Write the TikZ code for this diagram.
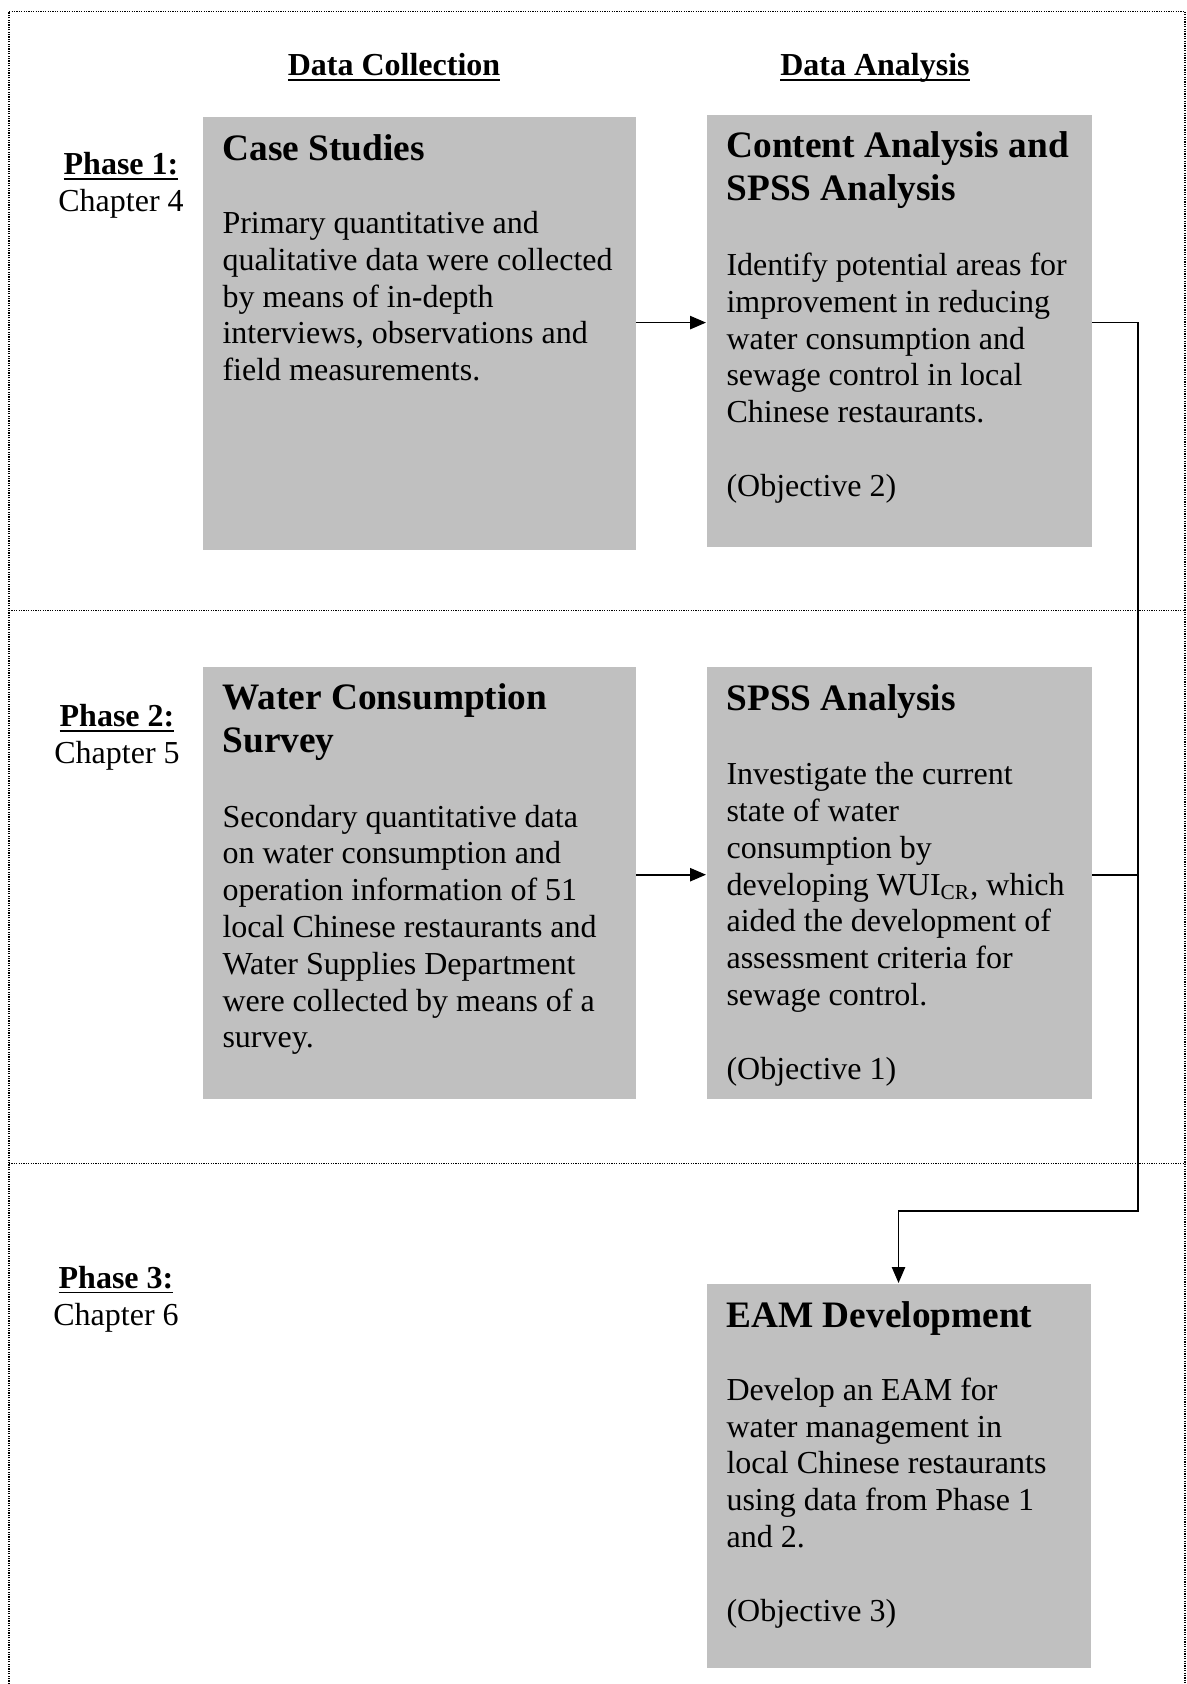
\documentclass[tikz,border=0pt]{standalone}
\usepackage{fontspec}
\setmainfont{Liberation Serif}
\usetikzlibrary{arrows.meta}
\definecolor{boxgray}{RGB}{192,192,192}
\newcommand{\myul}[1]{\setbox0\hbox{#1}\rlap{\rule[-1.9pt]{\wd0}{0.6pt}}\box0}
\begin{document}
\begin{tikzpicture}[x=0.375pt,y=-0.375pt,
 gbox/.style={fill=boxgray, draw=none, inner sep=0pt, anchor=north west},
 title/.style={anchor=base west, inner sep=0pt, align=left, font=\fontsize{14pt}{16.1pt}\selectfont\bfseries},
 body/.style={anchor=base west, inner sep=0pt, align=left, font=\fontsize{12pt}{13.8pt}\selectfont},
 head/.style={anchor=base, inner sep=0pt, font=\fontsize{12pt}{13.8pt}\selectfont\bfseries},
 phase/.style={anchor=base, inner sep=0pt, align=center, font=\fontsize{12pt}{13.8pt}\selectfont},
 frame/.style={line width=0.5pt, dash pattern=on 0.45pt off 0.45pt},
 conn/.style={line width=0.6pt},
 arr/.style={conn, -{Triangle[length=6pt,width=5pt]}}
]
\useasboundingbox (0,0) rectangle (1187,1684);

% frame and dividers
\draw[frame] (9,1684) -- (9,11.5) -- (1185,11.5) -- (1185,1684);
\draw[frame] (9,610.6) -- (1185,610.6);
\draw[frame] (9,1163.6) -- (1185,1163.6);

% boxes
\node[gbox, minimum width=433*0.375pt, minimum height=433*0.375pt] (csbox) at (202,116) {};
\node[gbox, minimum width=385*0.375pt, minimum height=432.5*0.375pt] (cabox) at (706,114) {};
\node[gbox, minimum width=433*0.375pt, minimum height=432.6*0.375pt] (wcbox) at (202,666) {};
\node[gbox, minimum width=385*0.375pt, minimum height=432.6*0.375pt] (spbox) at (706,666) {};
\node[gbox, minimum width=384*0.375pt, minimum height=384.7*0.375pt] (eambox) at (706,1283) {};

% headers
\node[head] (dc) at (394,76) {\myul{Data Collection}};
\node[head] (da) at (875,76) {\myul{Data Analysis}};

% phases (anchor = baseline of last line)
\node[phase] (p1) at (121,211.3) {\textbf{\myul{Phase 1:}}\\Chapter 4};
\node[phase] (p2) at (117,763.5) {\textbf{\myul{Phase 2:}}\\Chapter 5};
\node[phase] (p3) at (116,1325) {\textbf{\myul{Phase 3:}}\\Chapter 6};

% texts (anchor = baseline of last line)
\node[title] (cst) at (222,160.7) {Case Studies};
\node[body] (csb) at (222,380.6) {Primary quantitative and\\qualitative data were collected\\by means of in-depth\\interviews, observations and\\field measurements.};

\node[title] (cat) at (726,200.9) {Content Analysis and\\SPSS Analysis};
\node[body] (cab) at (726,496.3) {Identify potential areas for\\improvement in reducing\\water consumption and\\sewage control in local\\Chinese restaurants.\\[13.8pt](Objective 2)};

\node[title] (wct) at (222,752.9) {Water Consumption\\Survey};
\node[body] (wcb) at (222,1047.8) {Secondary quantitative data\\on water consumption and\\operation information of 51\\local Chinese restaurants and\\Water Supplies Department\\were collected by means of a\\survey.};

\node[title] (spt) at (726,710) {SPSS Analysis};
\node[body] (spb) at (726,1079.1) {Investigate the current\\state of water\\consumption by\\developing WUI\textsubscript{CR}, which\\aided the development of\\assessment criteria for\\sewage control.\\[13.8pt](Objective 1)};

\node[title] (eat) at (726,1327) {EAM Development};
\node[body] (eab) at (726,1621.1) {Develop an EAM for\\water management in\\local Chinese restaurants\\using data from Phase 1\\and 2.\\[13.8pt](Objective 3)};

% connectors
\coordinate (r1) at (0,322.6);
\coordinate (r2) at (0,874.7);
\coordinate (bus1) at (1138,322.6);
\coordinate (bus2) at (1138,874.7);
\coordinate (bend) at (1138,1211);
\draw[arr] (csbox.east |- r1) -- (cabox.west |- r1);
\draw[arr] (wcbox.east |- r2) -- (spbox.west |- r2);
\draw[arr] (cabox.east |- r1) -- (bus1) -- (bend) -| (eambox.north);
\draw[conn] (spbox.east |- r2) -- (bus2);
\end{tikzpicture}
\end{document}
